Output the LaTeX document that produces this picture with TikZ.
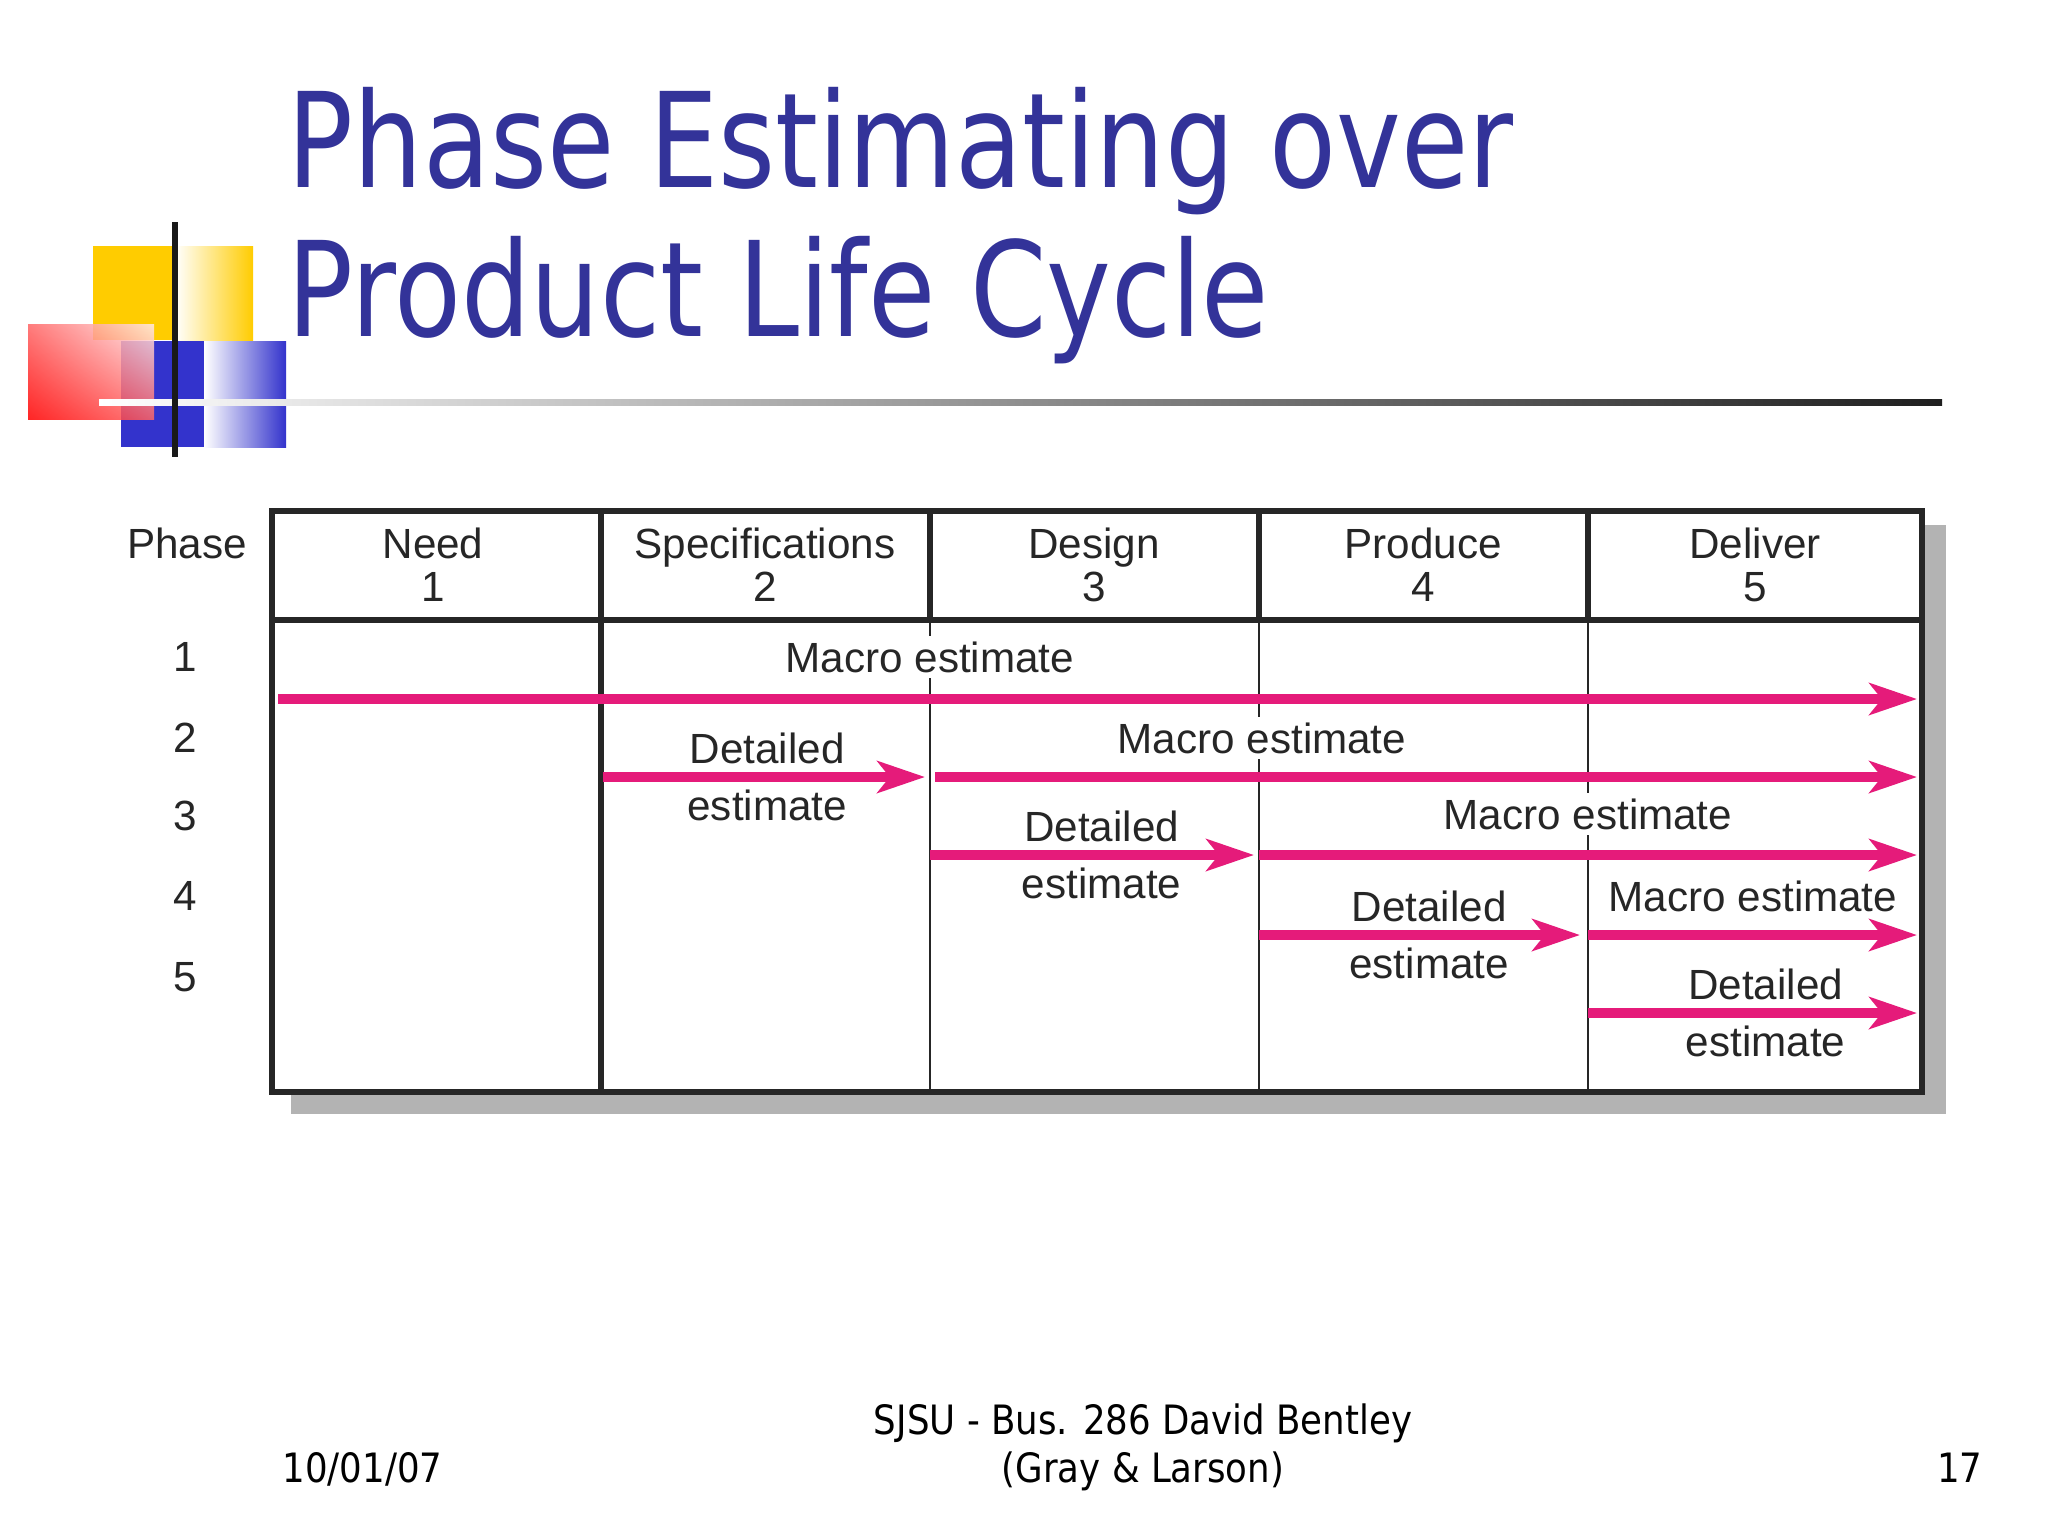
\documentclass[tikz,border=0pt]{standalone}
\usepackage{fontspec}
\setmainfont{Liberation Sans}
\newfontfamily\slidefont{DejaVu Sans}[FakeStretch=0.83]
\newfontfamily\footfont{DejaVu Sans}[FakeStretch=0.88]
\usepackage{tikz}
\usetikzlibrary{arrows.meta,shadings}
\definecolor{titleblue}{RGB}{51,51,153}
\definecolor{estpink}{RGB}{229,27,122}
\definecolor{logoyellow}{RGB}{255,204,0}
\definecolor{logoblue}{RGB}{51,51,204}
\definecolor{shadowgray}{RGB}{179,179,179}
\newcommand\tabfont{\fontsize{12}{12.2}\selectfont}

\begin{document}
\begin{tikzpicture}[x=0.01cm, y=-0.01cm,
  title/.style={font=\slidefont\fontsize{37.5}{42}\selectfont, text=titleblue, inner sep=0pt, anchor=base west},
  foot/.style={font=\footfont\fontsize{11.5}{13.7}\selectfont, inner sep=0pt},
  rule/.style={line width=1.5pt, draw=black!85},
  thinrule/.style={line width=0.45pt, draw=black!85},
  est/.style={draw=estpink, line width=2.9pt, -{Stealth[length=13.5pt,width=9pt,inset=3.5pt]}},
  cell/.style={font=\tabfont, text=black!85, align=center},
  lbl/.style={font=\tabfont, text=black!85, inner sep=2.2pt},
  macro/.style={lbl, fill=white, inner sep=1.5pt}]
  \useasboundingbox (0,0) rectangle (2048,1536);
  \fill[white] (0,0) rectangle (2048,1536);

  \fill[logoyellow] (93,246) rectangle (175,340);
  \shade[left color=white, right color=logoyellow] (175,246) rectangle (253,340);
  \fill[logoblue] (121,341) rectangle (204,447);
  \shade[left color=white, right color=logoblue] (204,341) rectangle (286,447);
  \shade[opacity=0.85, lower left=red, upper left=red!60!white, lower right=red!60!white, upper right=red!8!white] (28,324) rectangle (154,419);
  \shade[left color=white, right color=black!88] (99,399) rectangle (1942,405);
  \fill[black!90] (172,222) rectangle (178,457);

  \node[title] (t1) at (287,187) {Phase Estimating over};
  \node[title] (t2) at (287,336) {Product Life Cycle};

  \fill[shadowgray] (291,525) rectangle (1946,1114);
  \fill[white] (272,511) rectangle (1922,1092);
  \foreach \x in {930,1259,1588}
    \draw[thinrule] (\x,620) -- (\x,1092);

  \node[lbl] (phase) at (187,543) {Phase};
  \foreach \t/\x [count=\i] in {Need/433, Specifications/765, Design/1094, Produce/1423, Deliver/1755}
    \node[cell] (h\i) at (\x,565) {\t\\\i};
  \foreach \y [count=\i] in {657,738,816,896,977}
    \node[lbl] (r\i) at (185,\y) {\i};

  \node[macro] (m1l) at (930,657) {Macro estimate};
  \node[macro] (m2l) at (1262,738) {Macro estimate};
  \node[macro] (m3l) at (1588,814) {Macro estimate};
  \node[macro] (m4l) at (1753,896) {Macro estimate};

  \draw[rule] (272,511) rectangle (1922,1092);
  \draw[rule] (272,620) -- (1922,620);
  \draw[rule] (601,511) -- (601,1092);
  \foreach \x in {930,1259,1588}
    \draw[rule] (\x,511) -- (\x,620);

  \coordinate (m1s) at (278,699);  \coordinate (m1e) at (1917,699);
  \coordinate (d2s) at (603,777);  \coordinate (d2e) at (925,777);
  \coordinate (m2s) at (935,777);  \coordinate (m2e) at (1917,777);
  \coordinate (d3s) at (930,855);  \coordinate (d3e) at (1254,855);
  \coordinate (m3s) at (1259,855); \coordinate (m3e) at (1917,855);
  \coordinate (d4s) at (1259,935); \coordinate (d4e) at (1580,935);
  \coordinate (m4s) at (1588,935); \coordinate (m4e) at (1917,935);
  \coordinate (d5s) at (1588,1013); \coordinate (d5e) at (1917,1013);

  \draw[est] (m1s) -- (m1e);
  \draw[est] (m2s) -- (m2e);
  \draw[est] (m3s) -- (m3e);
  \draw[est] (m4s) -- (m4e);
  \draw[est] (d2s) -- node[lbl, above, pos=.51] (d2a) {Detailed} node[lbl, below, pos=.51] (d2b) {estimate} (d2e);
  \draw[est] (d3s) -- node[lbl, above, pos=.53] (d3a) {Detailed} node[lbl, below, pos=.53] (d3b) {estimate} (d3e);
  \draw[est] (d4s) -- node[lbl, above, pos=.53] (d4a) {Detailed} node[lbl, below, pos=.53] (d4b) {estimate} (d4e);
  \draw[est] (d5s) -- node[lbl, above, pos=.54] (d5a) {Detailed} node[lbl, below, pos=.54] (d5b) {estimate} (d5e);

  \node[foot, anchor=base west] (date) at (282,1482) {10/01/07};
  \node[foot, anchor=base] (src1) at (1143,1434) {SJSU - Bus. 286 David Bentley};
  \node[foot, anchor=base] (src2) at (1143,1482) {(Gray \& Larson)};
  \node[foot, anchor=base east] (page) at (1983,1482) {17};
\end{tikzpicture}
\end{document}
